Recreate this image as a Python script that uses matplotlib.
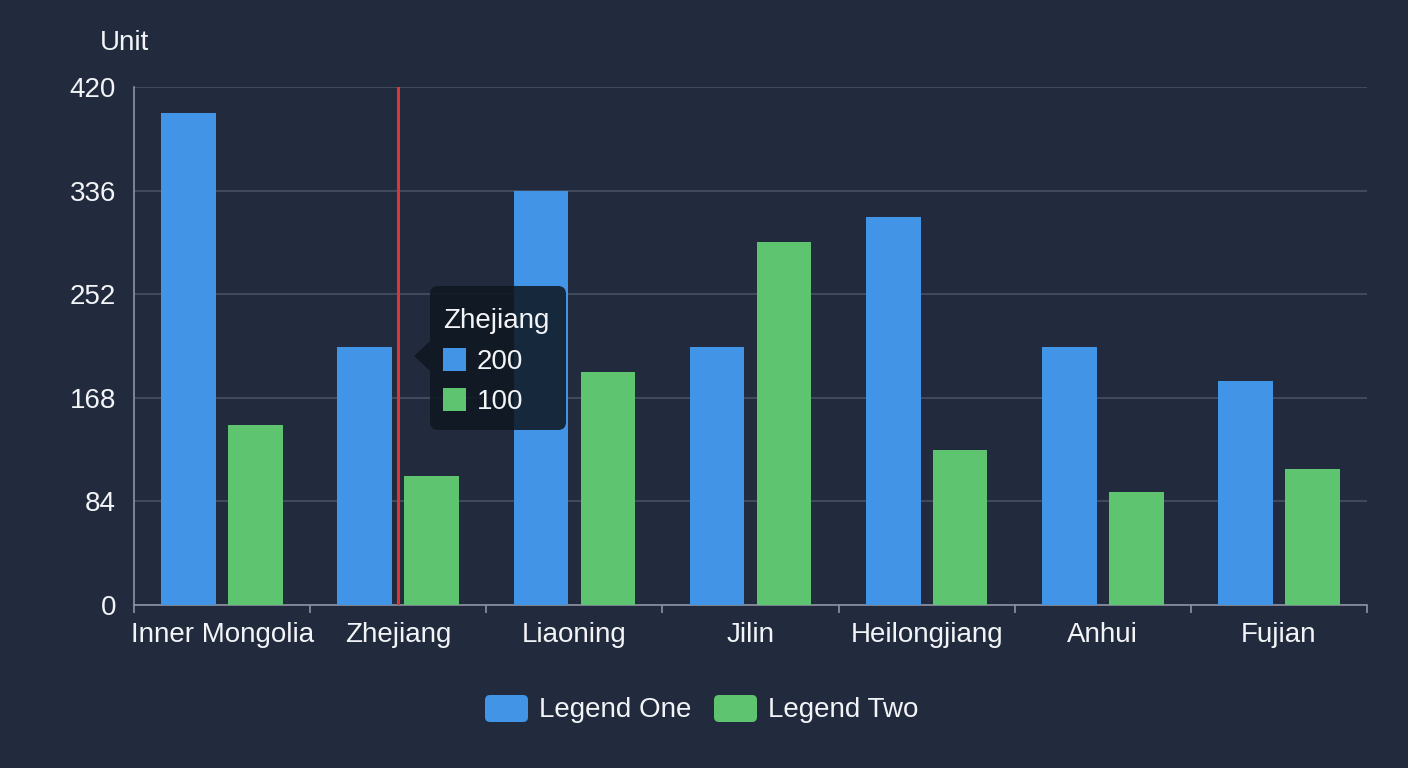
import matplotlib.pyplot as plt
from matplotlib.patches import FancyBboxPatch, Polygon, Rectangle
import numpy as np

# data
categories = ["Inner Mongolia", "Zhejiang", "Liaoning", "Jilin", "Heilongjiang", "Anhui", "Fujian"]
legend_one = [399, 209, 336, 209, 315, 209, 182]
legend_two = [146, 105, 189, 294, 126, 92, 110]
yticks = [0, 84, 168, 252, 336, 420]
series_names = ["Legend One", "Legend Two"]
tooltip_title = "Zhejiang"
tooltip_values = [200, 100]

bg = "#212b3d"
blue = "#4295e6"
green = "#5fc46f"
grid_c = "#465163"
axis_c = "#8b94a3"
text_c = "#f2f4f7"
tip_c = "#0f1720"

plt.rcParams['font.family'] = ['Liberation Sans', 'DejaVu Sans']

fig = plt.figure(figsize=(14.08, 7.68), dpi=100, facecolor=bg)
ax = fig.add_axes([0.0952, 0.2122, 0.8757, 0.6745])
ax.set_facecolor(bg)

x = np.arange(len(categories))
w = 0.31
ax.bar(x - 0.19, legend_one, width=w, color=blue, zorder=3)
ax.bar(x + 0.19, legend_two, width=w, color=green, zorder=3)

ax.set_xlim(-0.5, len(categories) - 0.5)
ax.set_ylim(0, 420)
ax.set_yticks(yticks)
ax.set_yticklabels([str(v) for v in yticks], fontsize=20, color=text_c)
ax.tick_params(axis='y', length=0, pad=13)
ax.grid(axis='y', color=grid_c, linewidth=1.2, zorder=0)

# x ticks on category boundaries, labels at centres
ax.set_xticks(np.arange(len(categories) + 1) - 0.5)
ax.set_xticklabels([])
ax.set_xticks(x, minor=True)
ax.set_xticklabels(categories, minor=True, fontsize=20, color=text_c)
ax.tick_params(axis='x', which='major', length=6, color=axis_c, width=1.2)
ax.tick_params(axis='x', which='minor', length=0, pad=12)

for s in ['top', 'right']:
    ax.spines[s].set_visible(False)
for s in ['left', 'bottom']:
    ax.spines[s].set_color(axis_c)
    ax.spines[s].set_linewidth(1.2)

# pointer line on Zhejiang
ax.axvline(1, color="#d9373a", linewidth=2.2, zorder=4)

# overlay in pixel units for tooltip / legend / unit label
ov = fig.add_axes([0, 0, 1, 1], facecolor='none')
ov.set_xlim(0, 1408)
ov.set_ylim(768, 0)
ov.axis('off')
ov.set_zorder(10)

ov.add_patch(FancyBboxPatch((430, 286), 136, 144, boxstyle="round,pad=0,rounding_size=8",
                            facecolor=tip_c, alpha=0.86, edgecolor='none'))
ov.add_patch(Polygon([[430, 341], [414, 356], [430, 371]], closed=True,
                     facecolor=tip_c, alpha=0.86, edgecolor='none'))
ov.text(443, 321, tooltip_title, fontsize=20, color=text_c, va='center', ha='left')
for i, (val, c) in enumerate(zip(tooltip_values, [blue, green])):
    yy = 360 + i * 40
    ov.add_patch(Rectangle((443, yy - 12), 23, 23, facecolor=c, edgecolor='none'))
    ov.text(477, yy + 2, str(val), fontsize=20, color=text_c, va='center', ha='left')

# unit label
ov.text(125, 43, "Unit", fontsize=20, color=text_c, ha='center', va='center')

# legend
for name, c, x0 in zip(series_names, [blue, green], [485, 714]):
    ov.add_patch(FancyBboxPatch((x0, 695), 43, 27, boxstyle="round,pad=0,rounding_size=5",
                                facecolor=c, edgecolor='none'))
    ov.text(x0 + 54, 710, name, fontsize=20, color=text_c, ha='left', va='center')

fig.savefig("out.png", dpi=100, facecolor=bg)
